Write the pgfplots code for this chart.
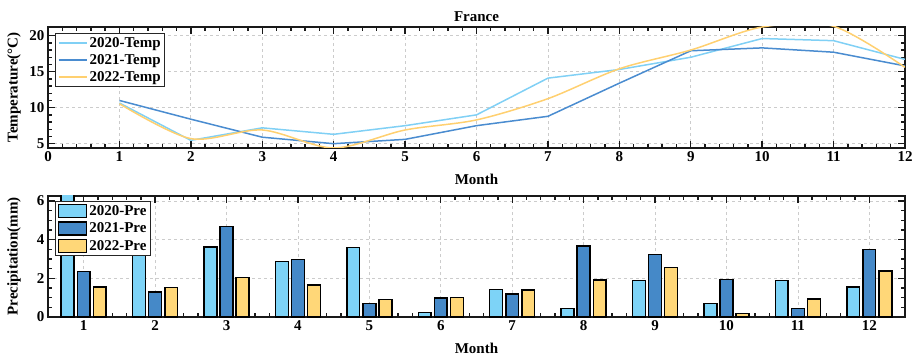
\documentclass[border=0pt]{standalone}
\usepackage{fontspec}
\setmainfont{Liberation Serif}
\usepackage{pgfplots}
\pgfplotsset{compat=1.18}
\definecolor{cA}{HTML}{7DD3F7}
\definecolor{cB}{HTML}{4589C8}
\definecolor{cC}{HTML}{FFD778}
\definecolor{lA}{HTML}{80D0F5}
\definecolor{lB}{HTML}{4A8CD0}
\definecolor{lC}{HTML}{FFD070}
\begin{document}
\begin{tikzpicture}
\path[use as bounding box] (0pt,0pt) rectangle (913pt,-358pt);
\pgfplotsset{
 myax/.style={scale only axis, width=857pt, height=121pt, anchor=north west,
   axis line style={line width=2pt, black!90},
   tick align=inside,
   major tick length=7pt, minor tick length=4pt,
   every tick/.style={black!90, line width=1.4pt},
   grid=major, major grid style={dashed, black!20, line width=0.7pt},
   /pgf/number format/assume math mode=true,
   ticklabel style={font=\fontsize{15}{15}\selectfont\bfseries},
   label style={font=\fontsize{15}{15}\selectfont\bfseries},
   title style={font=\fontsize{15}{15}\selectfont\bfseries},
   legend style={font=\fontsize{15}{15}\selectfont\bfseries, draw=black!85, line width=1pt, inner sep=2pt, row sep=1.5pt},
   legend cell align=left,
   every axis title shift=0pt,
 },
 barleg/.style={legend image code/.code={\draw[##1,line width=1.5pt] (0pt,-6.5pt) rectangle (28pt,6.5pt);}},
}
\begin{axis}[myax, at={(48pt,-27pt)},
  xmin=0, xmax=12, ymin=4.4, ymax=21.2,
  xtick={0,...,12}, ytick={5,10,15,20},
  minor x tick num=4, minor y tick num=4,
  title={France}, title style={at={(axis description cs:0.5,1)}, anchor=south, inner sep=0pt, yshift=5pt},
  xlabel={Month}, xlabel style={at={(axis description cs:0.5,-0.215)}, anchor=north, inner sep=0pt},
  ylabel={Temperature(°C)}, ylabel style={at={(axis description cs:-0.0315,0.5)}, anchor=south, inner sep=0pt},
  legend style={at={(axis description cs:0.0085,0.95)}, anchor=north west},
  legend image code/.code={\draw[#1,line width=1.8pt] (0pt,0pt) -- (28pt,0pt);},
]
\addplot[lA, line width=1.5pt] coordinates {(1,10.65)(2,5.46)(3,7.2)(4,6.3)(5,7.5)(6,9.0)(7,14.1)(8,15.3)(9,17.0)(10,19.6)(11,19.3)(12,16.7)};
\addlegendentry{2020-Temp}
\addplot[lB, line width=1.5pt] coordinates {(1,11.0)(2,8.4)(3,5.9)(4,5.0)(5,5.6)(6,7.5)(7,8.8)(8,13.4)(9,17.9)(10,18.3)(11,17.7)(12,15.8)};
\addlegendentry{2021-Temp}
\addplot[lC, line width=1.5pt, smooth] coordinates {(1,10.55)(2,5.7)(3,6.9)(4,4.4)(5,6.9)(6,8.3)(7,11.25)(8,15.4)(9,18.0)(10,21.2)(11,21.3)(12,15.6)};
\addlegendentry{2022-Temp}
\end{axis}
\begin{axis}[myax, at={(48pt,-196pt)},
  xmin=0.5, xmax=12.5, ymin=0, ymax=6.26,
  xtick={1,...,12}, ytick={0,2,4,6},
  minor x tick num=4, minor y tick num=3,
  xlabel={Month}, xlabel style={at={(axis description cs:0.5,-0.21)}, anchor=north, inner sep=0pt},
  ylabel={Precipitation(mm)}, ylabel style={at={(axis description cs:-0.0315,0.5)}, anchor=south, inner sep=0pt},
  legend style={at={(axis description cs:0.0085,0.96)}, anchor=north west, row sep=2pt},
]
\addplot[ybar, bar width=0.18, bar shift=-0.225, fill=cA, draw=black, line width=1.5pt, barleg] coordinates {(1,6.5)(2,5.0)(3,3.62)(4,2.88)(5,3.6)(6,0.23)(7,1.42)(8,0.45)(9,1.9)(10,0.69)(11,1.9)(12,1.54)};
\addlegendentry{2020-Pre}
\addplot[ybar, bar width=0.18, bar shift=0, fill=cB, draw=black, line width=1.5pt, barleg] coordinates {(1,2.35)(2,1.3)(3,4.67)(4,2.98)(5,0.69)(6,0.98)(7,1.19)(8,3.67)(9,3.23)(10,1.93)(11,0.45)(12,3.5)};
\addlegendentry{2021-Pre}
\addplot[ybar, bar width=0.18, bar shift=0.225, fill=cC, draw=black, line width=1.5pt, barleg] coordinates {(1,1.54)(2,1.52)(3,2.05)(4,1.66)(5,0.9)(6,1.02)(7,1.4)(8,1.91)(9,2.57)(10,0.17)(11,0.92)(12,2.38)};
\addlegendentry{2022-Pre}
\end{axis}
\end{tikzpicture}
\end{document}
